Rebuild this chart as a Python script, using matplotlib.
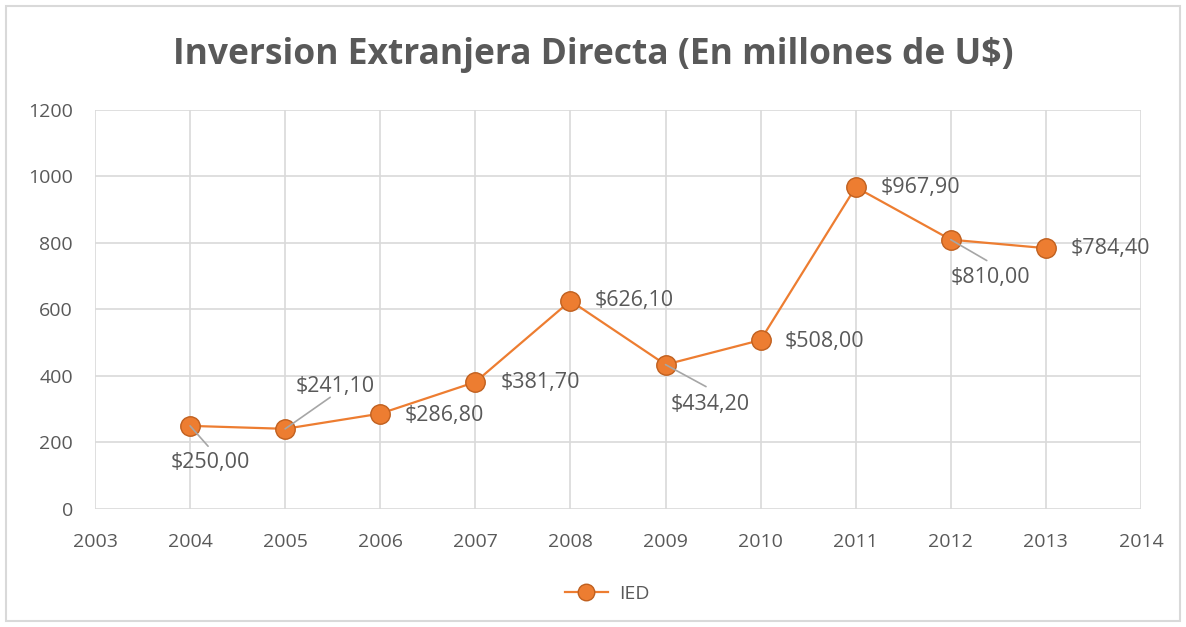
import matplotlib.pyplot as plt
from matplotlib.patches import Rectangle

# Data
years = [2004, 2005, 2006, 2007, 2008, 2009, 2010, 2011, 2012, 2013]
ied = [250.0, 241.1, 286.8, 381.7, 626.1, 434.2, 508.0, 967.9, 810.0, 784.4]
labels = ['$250,00', '$241,10', '$286,80', '$381,70', '$626,10',
          '$434,20', '$508,00', '$967,90', '$810,00', '$784,40']

# label offsets in pixels (dx, dy, ha, leader line)
offs = [(20, -37, 'center', True), (50, 42, 'center', True), (24, -2, 'left', False),
        (25, 0, 'left', False), (24, 0, 'left', False), (45, -40, 'center', True),
        (24, -1, 'left', False), (25, 0, 'left', False), (40, -38, 'center', True),
        (25, 0, 'left', False)]

grey = '#595959'
orange = '#ED7D31'

plt.rcParams['font.family'] = ['Open Sans', 'DejaVu Sans']

fig = plt.figure(figsize=(11.86, 6.27), dpi=100)
ax = fig.add_axes([0.0801, 0.1882, 0.8819, 0.6364])

# outer chart border
fig.patches.append(Rectangle((6 / 1186, 6 / 627), 1 - 12 / 1186, 1 - 12 / 627,
                             transform=fig.transFigure, fill=False,
                             edgecolor='#d9d9d9', lw=1.5))

ax.plot(years, ied, color=orange, lw=1.6, marker='o', markersize=14,
        markerfacecolor=orange, markeredgecolor='#c0601f', markeredgewidth=1,
        label='IED', zorder=3)

for x, y, lab, (dx, dy, ha, lead) in zip(years, ied, labels, offs):
    if lead:
        ax.annotate('', xy=(x, y), xytext=(dx * 0.9, dy * 0.55 if dy < 0 else dy * 0.75),
                    textcoords='offset pixels',
                    arrowprops=dict(arrowstyle='-', color='#a6a6a6', lw=1.2,
                                    shrinkA=0, shrinkB=0), zorder=4)
    ax.annotate(lab, xy=(x, y), xytext=(dx, dy), textcoords='offset pixels',
                ha=ha, va='center', fontsize=15.5, color=grey, zorder=5)

ax.set_xlim(2003, 2014)
ax.set_ylim(0, 1200)
ax.set_xticks(range(2003, 2015))
ax.set_yticks(range(0, 1201, 200))
ax.grid(True, color='#d9d9d9', lw=1.2)
ax.set_axisbelow(True)
for s in ax.spines.values():
    s.set_visible(False)
ax.tick_params(length=0, labelsize=14, labelcolor=grey)
ax.tick_params(axis='x', pad=17)
ax.tick_params(axis='y', pad=16)

fig.text(0.5, 0.912, 'Inversion Extranjera Directa (En millones de U$)',
         ha='center', va='center', fontsize=25.5, fontweight='bold', color=grey)

ax.legend(loc='center', bbox_to_anchor=(0.49, -0.212), frameon=False,
          fontsize=14, labelcolor=grey, handlelength=2.2, markerscale=0.85,
          handletextpad=0.6)

fig.savefig('out.png', dpi=100)
